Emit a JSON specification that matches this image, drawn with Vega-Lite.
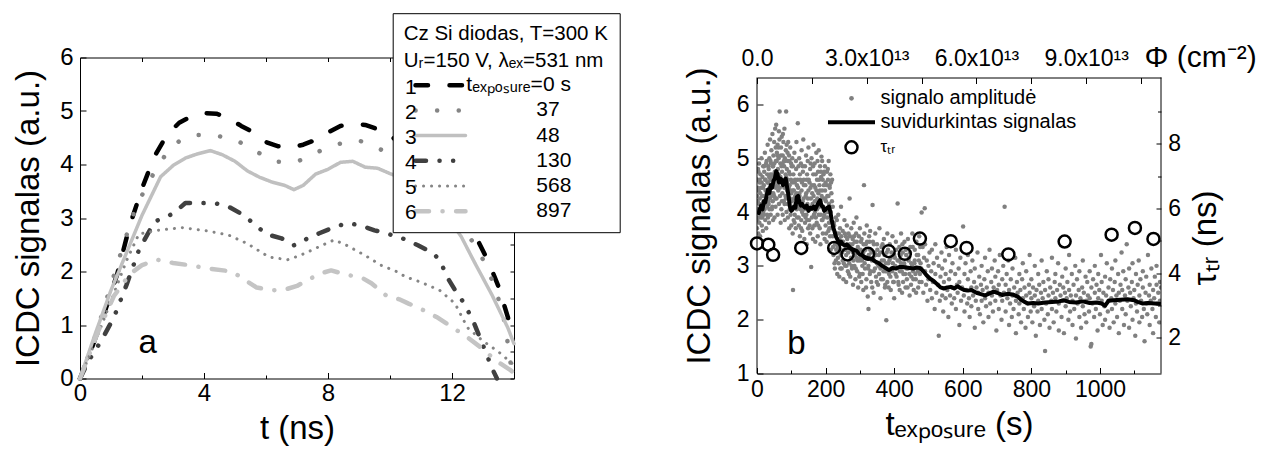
{
"$schema": "https://vega.github.io/schema/vega-lite/v6.json",
"padding": {"left": 12, "top": 12.5, "right": 5, "bottom": 2},
"background": "white",
"config": {
 "font": "Liberation Sans",
 "view": {"stroke": null},
 "axis": {"domainColor": "black", "domainWidth": 1, "tickColor": "black", "tickWidth": 1, "labelColor": "black", "titleColor": "black", "labelFontSize": 24, "titleFontSize": 33, "titleFontWeight": "normal", "grid": false, "labelOverlap": false, "labelFlush": false, "labelBound": false},
 "legend": {"labelColor": "black", "titleColor": "black", "titleLimit": 500, "labelLimit": 500},
 "text": {"color": "black"}
},
"spacing": 62,
"resolve": {"scale": {"color": "independent", "strokeDash": "independent", "shape": "independent"}, "legend": {"color": "independent", "strokeDash": "independent", "shape": "independent"}},
"hconcat": [
{
 "width": 434, "height": 321,
 "data": {"values": [
  {"series":"s1","n":"1","t":0,"v":0},{"series":"s1","n":"1","t":0.4,"v":0.6},{"series":"s1","n":"1","t":0.8,"v":1.25},{"series":"s1","n":"1","t":1.2,"v":1.95},{"series":"s1","n":"1","t":1.6,"v":2.85},{"series":"s1","n":"1","t":2.0,"v":3.55},{"series":"s1","n":"1","t":2.4,"v":4.15},{"series":"s1","n":"1","t":2.8,"v":4.55},{"series":"s1","n":"1","t":3.2,"v":4.78},{"series":"s1","n":"1","t":3.6,"v":4.9},{"series":"s1","n":"1","t":4.0,"v":4.96},{"series":"s1","n":"1","t":4.4,"v":4.95},{"series":"s1","n":"1","t":4.8,"v":4.87},{"series":"s1","n":"1","t":5.2,"v":4.72},{"series":"s1","n":"1","t":5.6,"v":4.6},{"series":"s1","n":"1","t":6.0,"v":4.42},{"series":"s1","n":"1","t":6.4,"v":4.34},{"series":"s1","n":"1","t":6.8,"v":4.32},{"series":"s1","n":"1","t":7.2,"v":4.37},{"series":"s1","n":"1","t":7.6,"v":4.46},{"series":"s1","n":"1","t":8.0,"v":4.6},{"series":"s1","n":"1","t":8.4,"v":4.72},{"series":"s1","n":"1","t":8.8,"v":4.76},{"series":"s1","n":"1","t":9.2,"v":4.74},{"series":"s1","n":"1","t":9.6,"v":4.66},{"series":"s1","n":"1","t":10.0,"v":4.55},{"series":"s1","n":"1","t":10.5,"v":4.3},{"series":"s1","n":"1","t":11.0,"v":3.95},{"series":"s1","n":"1","t":11.5,"v":3.55},{"series":"s1","n":"1","t":12.0,"v":3.2},{"series":"s1","n":"1","t":12.5,"v":2.9},{"series":"s1","n":"1","t":12.8,"v":2.62},{"series":"s1","n":"1","t":13.2,"v":2.15},{"series":"s1","n":"1","t":13.5,"v":1.72},{"series":"s1","n":"1","t":13.8,"v":1.15},{"series":"s1","n":"1","t":14,"v":0.75},
  {"series":"s2","n":"2","t":0,"v":0},{"series":"s2","n":"2","t":0.5,"v":0.8},{"series":"s2","n":"2","t":1.0,"v":1.75},{"series":"s2","n":"2","t":1.4,"v":2.5},{"series":"s2","n":"2","t":1.8,"v":3.2},{"series":"s2","n":"2","t":2.2,"v":3.65},{"series":"s2","n":"2","t":2.5,"v":3.96},{"series":"s2","n":"2","t":2.9,"v":4.3},{"series":"s2","n":"2","t":3.3,"v":4.48},{"series":"s2","n":"2","t":3.7,"v":4.55},{"series":"s2","n":"2","t":4.3,"v":4.55},{"series":"s2","n":"2","t":5.0,"v":4.47},{"series":"s2","n":"2","t":5.6,"v":4.27},{"series":"s2","n":"2","t":6.3,"v":4.05},{"series":"s2","n":"2","t":7.0,"v":4.05},{"series":"s2","n":"2","t":7.6,"v":4.22},{"series":"s2","n":"2","t":8.3,"v":4.38},{"series":"s2","n":"2","t":9.0,"v":4.45},{"series":"s2","n":"2","t":9.7,"v":4.28},{"series":"s2","n":"2","t":10.0,"v":4.2},{"series":"s2","n":"2","t":10.5,"v":4.0},{"series":"s2","n":"2","t":11.0,"v":3.7},{"series":"s2","n":"2","t":11.5,"v":3.4},{"series":"s2","n":"2","t":12.0,"v":3.05},{"series":"s2","n":"2","t":12.5,"v":2.7},{"series":"s2","n":"2","t":12.9,"v":2.35},{"series":"s2","n":"2","t":13.4,"v":1.7},{"series":"s2","n":"2","t":13.7,"v":1.05},{"series":"s2","n":"2","t":13.9,"v":0.25},{"series":"s2","n":"2","t":14,"v":0.1},
  {"series":"s3","n":"3","t":0,"v":0},{"series":"s3","n":"3","t":0.5,"v":0.85},{"series":"s3","n":"3","t":1.0,"v":1.65},{"series":"s3","n":"3","t":1.5,"v":2.35},{"series":"s3","n":"3","t":2.0,"v":3.05},{"series":"s3","n":"3","t":2.6,"v":3.77},{"series":"s3","n":"3","t":3.0,"v":3.98},{"series":"s3","n":"3","t":3.4,"v":4.12},{"series":"s3","n":"3","t":3.8,"v":4.2},{"series":"s3","n":"3","t":4.2,"v":4.26},{"series":"s3","n":"3","t":4.6,"v":4.18},{"series":"s3","n":"3","t":5.0,"v":4.06},{"series":"s3","n":"3","t":5.4,"v":3.88},{"series":"s3","n":"3","t":5.8,"v":3.76},{"series":"s3","n":"3","t":6.2,"v":3.67},{"series":"s3","n":"3","t":6.6,"v":3.61},{"series":"s3","n":"3","t":6.9,"v":3.53},{"series":"s3","n":"3","t":7.2,"v":3.61},{"series":"s3","n":"3","t":7.6,"v":3.82},{"series":"s3","n":"3","t":8.0,"v":3.91},{"series":"s3","n":"3","t":8.4,"v":4.04},{"series":"s3","n":"3","t":8.8,"v":4.06},{"series":"s3","n":"3","t":9.2,"v":3.95},{"series":"s3","n":"3","t":9.6,"v":3.93},{"series":"s3","n":"3","t":10.0,"v":3.83},{"series":"s3","n":"3","t":10.5,"v":3.72},{"series":"s3","n":"3","t":11.0,"v":3.5},{"series":"s3","n":"3","t":11.5,"v":3.2},{"series":"s3","n":"3","t":12.0,"v":2.9},{"series":"s3","n":"3","t":12.3,"v":2.65},{"series":"s3","n":"3","t":12.7,"v":2.2},{"series":"s3","n":"3","t":13.3,"v":1.55},{"series":"s3","n":"3","t":13.8,"v":0.95},{"series":"s3","n":"3","t":14,"v":0.65},
  {"series":"s4","n":"4","t":0,"v":0},{"series":"s4","n":"4","t":0.3,"v":0.35},{"series":"s4","n":"4","t":0.7,"v":0.72},{"series":"s4","n":"4","t":1.1,"v":1.15},{"series":"s4","n":"4","t":1.5,"v":1.75},{"series":"s4","n":"4","t":1.9,"v":2.4},{"series":"s4","n":"4","t":2.4,"v":2.93},{"series":"s4","n":"4","t":3.0,"v":3.08},{"series":"s4","n":"4","t":3.4,"v":3.28},{"series":"s4","n":"4","t":3.9,"v":3.28},{"series":"s4","n":"4","t":4.4,"v":3.27},{"series":"s4","n":"4","t":4.8,"v":3.21},{"series":"s4","n":"4","t":5.2,"v":3.08},{"series":"s4","n":"4","t":5.6,"v":2.9},{"series":"s4","n":"4","t":6.0,"v":2.7},{"series":"s4","n":"4","t":6.5,"v":2.62},{"series":"s4","n":"4","t":6.9,"v":2.49},{"series":"s4","n":"4","t":7.35,"v":2.62},{"series":"s4","n":"4","t":7.7,"v":2.71},{"series":"s4","n":"4","t":8.2,"v":2.83},{"series":"s4","n":"4","t":8.6,"v":2.9},{"series":"s4","n":"4","t":9.0,"v":2.87},{"series":"s4","n":"4","t":9.5,"v":2.77},{"series":"s4","n":"4","t":9.9,"v":2.71},{"series":"s4","n":"4","t":10.4,"v":2.62},{"series":"s4","n":"4","t":10.9,"v":2.49},{"series":"s4","n":"4","t":11.4,"v":2.34},{"series":"s4","n":"4","t":11.6,"v":2.21},{"series":"s4","n":"4","t":11.9,"v":1.84},{"series":"s4","n":"4","t":12.1,"v":1.65},{"series":"s4","n":"4","t":12.4,"v":1.4},{"series":"s4","n":"4","t":12.7,"v":1.05},{"series":"s4","n":"4","t":13.0,"v":0.62},{"series":"s4","n":"4","t":13.3,"v":0.18},{"series":"s4","n":"4","t":13.45,"v":0},
  {"series":"s5","n":"5","t":0,"v":0},{"series":"s5","n":"5","t":0.5,"v":0.7},{"series":"s5","n":"5","t":1.0,"v":1.45},{"series":"s5","n":"5","t":1.5,"v":2.2},{"series":"s5","n":"5","t":1.9,"v":2.7},{"series":"s5","n":"5","t":2.5,"v":2.77},{"series":"s5","n":"5","t":3.3,"v":2.82},{"series":"s5","n":"5","t":4.1,"v":2.76},{"series":"s5","n":"5","t":4.8,"v":2.68},{"series":"s5","n":"5","t":5.4,"v":2.52},{"series":"s5","n":"5","t":6.1,"v":2.27},{"series":"s5","n":"5","t":6.7,"v":2.22},{"series":"s5","n":"5","t":7.1,"v":2.3},{"series":"s5","n":"5","t":7.7,"v":2.46},{"series":"s5","n":"5","t":8.2,"v":2.59},{"series":"s5","n":"5","t":8.6,"v":2.49},{"series":"s5","n":"5","t":9.2,"v":2.3},{"series":"s5","n":"5","t":9.7,"v":2.12},{"series":"s5","n":"5","t":10.25,"v":1.99},{"series":"s5","n":"5","t":10.5,"v":1.9},{"series":"s5","n":"5","t":11.0,"v":1.8},{"series":"s5","n":"5","t":11.6,"v":1.65},{"series":"s5","n":"5","t":12.1,"v":1.4},{"series":"s5","n":"5","t":12.5,"v":0.95},{"series":"s5","n":"5","t":13.0,"v":0.7},{"series":"s5","n":"5","t":13.5,"v":0.5},{"series":"s5","n":"5","t":14,"v":0.25},
  {"series":"s6","n":"6","t":0,"v":0},{"series":"s6","n":"6","t":0.6,"v":0.9},{"series":"s6","n":"6","t":1.1,"v":1.55},{"series":"s6","n":"6","t":1.3,"v":1.7},{"series":"s6","n":"6","t":1.6,"v":1.95},{"series":"s6","n":"6","t":2.0,"v":2.12},{"series":"s6","n":"6","t":2.5,"v":2.22},{"series":"s6","n":"6","t":3.0,"v":2.16},{"series":"s6","n":"6","t":3.5,"v":2.12},{"series":"s6","n":"6","t":4.1,"v":2.06},{"series":"s6","n":"6","t":4.9,"v":2.0},{"series":"s6","n":"6","t":5.3,"v":1.85},{"series":"s6","n":"6","t":5.7,"v":1.7},{"series":"s6","n":"6","t":6.2,"v":1.65},{"series":"s6","n":"6","t":6.6,"v":1.66},{"series":"s6","n":"6","t":7.0,"v":1.73},{"series":"s6","n":"6","t":7.4,"v":1.86},{"series":"s6","n":"6","t":7.8,"v":1.97},{"series":"s6","n":"6","t":8.1,"v":2.02},{"series":"s6","n":"6","t":8.6,"v":1.94},{"series":"s6","n":"6","t":9.1,"v":1.88},{"series":"s6","n":"6","t":9.4,"v":1.78},{"series":"s6","n":"6","t":9.9,"v":1.54},{"series":"s6","n":"6","t":10.3,"v":1.48},{"series":"s6","n":"6","t":10.6,"v":1.4},{"series":"s6","n":"6","t":11.0,"v":1.3},{"series":"s6","n":"6","t":11.5,"v":1.15},{"series":"s6","n":"6","t":12.0,"v":0.96},{"series":"s6","n":"6","t":12.5,"v":0.77},{"series":"s6","n":"6","t":13.0,"v":0.55},{"series":"s6","n":"6","t":13.4,"v":0.34},{"series":"s6","n":"6","t":13.9,"v":0.15},{"series":"s6","n":"6","t":14,"v":0.1}
 ]},
 "layer": [
  {
   "mark": {"type": "line", "strokeCap": "round", "strokeJoin": "round"},
   "encoding": {
    "x": {"field": "t", "type": "quantitative", "scale": {"domain": [0, 14], "nice": false, "zero": false},
          "axis": {"orient": "bottom", "values": [0,2,4,6,8,10,12,14], "format": "d", "labelExpr": "datum.value % 4 === 0 ? datum.label : ''", "tickSize": {"condition": {"test": "datum.value % 4 === 0", "value": -6}, "value": -3.5}, "labelPadding": 9, "title": "t (ns)", "titlePadding": 4}},
    "y": {"field": "v", "type": "quantitative", "scale": {"domain": [0, 6], "nice": false, "zero": false},
          "axis": {"orient": "left", "values": [0,0.5,1,1.5,2,2.5,3,3.5,4,4.5,5,5.5,6], "format": "d", "labelExpr": "datum.value % 1 === 0 ? datum.label : ''", "tickSize": {"condition": {"test": "datum.value % 1 === 0", "value": -6}, "value": -3.5}, "labelPadding": 13, "title": "ICDC signalas (a.u.)", "titlePadding": 14}},
    "color": {"field": "series", "type": "nominal",
      "scale": {"domain": ["s1","s2","s3","s4","s5","s6"], "range": ["#000000","#858585","#c0c0c0","#404040","#858585","#c4c4c4"]},
      "legend": {"orient": "none", "legendX": 312.7, "legendY": -44.3, "title": ["Cz Si diodas, T=300 K", "Uᵣ=150 V, λₑₓ=531 nm"], "titleFontSize": 20.5, "titleFontWeight": "normal", "titleLineHeight": 27, "titlePadding": 3, "labelFontSize": 21, "labelOffset": 15.3, "symbolType": "stroke", "symbolSize": 64, "symbolStrokeWidth": 4.5, "symbolOffset": 26.3, "fillColor": "white", "strokeColor": "black", "padding": 11, "cornerRadius": 0, "rowPadding": 3.2, "zindex": 1,
        "labelExpr": "datum.value === 's1' ? 'tₑₓₚₒₛᵤᵣₑ=0 s' : datum.value === 's2' ? '37' : datum.value === 's3' ? '48' : datum.value === 's4' ? '130' : datum.value === 's5' ? '568' : '897'",
        "encode": {"symbols": {"update": {"size": {"value": 2500}, "strokeCap": {"value": "round"}, "strokeWidth": {"signal": "datum.value === 's5' ? 3 : (datum.value === 's3' ? 3.5 : 4.5)"}}},
                   "labels": {"update": {"dx": {"signal": "datum.value === 's1' ? 0 : 70"}}}}}},
    "strokeDash": {"field": "series", "type": "nominal",
      "scale": {"domain": ["s1","s2","s3","s4","s5","s6"], "range": [[12.5,21.5],[0.1,21.5],[1,0],[10.5,13.5,0.1,13.5,0.1,13.5],[0.1,7.9],[13.5,13.5,0.1,13.5]]},
      "legend": {"orient": "none", "legendX": 312.7, "legendY": -44.3, "title": ["Cz Si diodas, T=300 K", "Uᵣ=150 V, λₑₓ=531 nm"], "titleFontSize": 20.5, "titleFontWeight": "normal", "titleLineHeight": 27, "titlePadding": 3, "labelFontSize": 21, "labelOffset": 15.3, "symbolType": "stroke", "symbolSize": 64, "symbolStrokeWidth": 4.5, "symbolOffset": 26.3, "fillColor": "white", "strokeColor": "black", "padding": 11, "cornerRadius": 0, "rowPadding": 3.2, "zindex": 1,
        "labelExpr": "datum.value === 's1' ? 'tₑₓₚₒₛᵤᵣₑ=0 s' : datum.value === 's2' ? '37' : datum.value === 's3' ? '48' : datum.value === 's4' ? '130' : datum.value === 's5' ? '568' : '897'",
        "encode": {"symbols": {"update": {"size": {"value": 2500}, "strokeCap": {"value": "round"}, "strokeWidth": {"signal": "datum.value === 's5' ? 3 : (datum.value === 's3' ? 3.5 : 4.5)"}}},
                   "labels": {"update": {"dx": {"signal": "datum.value === 's1' ? 0 : 70"}}}}}},
    "strokeWidth": {"condition": [{"test": "datum.series === 's5'", "value": 3}, {"test": "datum.series === 's3'", "value": 3.5}], "value": 4.5}
   }
  },
  {
   "mark": {"type": "line", "opacity": 0},
   "encoding": {
    "x": {"field": "t", "type": "quantitative", "axis": {"orient": "top", "values": [0,2,4,6,8,10,12,14], "labels": false, "tickSize": -4, "title": null}},
    "y": {"field": "v", "type": "quantitative", "axis": {"orient": "right", "values": [0,0.5,1,1.5,2,2.5,3,3.5,4,4.5,5,5.5,6], "labels": false, "tickSize": -4, "title": null}},
    "detail": {"field": "series"}
   }
  },
  {
   "mark": {"type": "point", "opacity": 0},
   "encoding": {
    "x": {"field": "t", "type": "quantitative", "axis": null},
    "y": {"field": "v", "type": "quantitative", "axis": null},
    "shape": {"field": "n", "type": "nominal", "legend": {"orient": "none", "legendX": 304, "legendY": 19.9, "title": null, "labelFontSize": 21, "labelOffset": 0, "symbolSize": 1, "symbolOpacity": 0, "rowPadding": 3.1, "padding": 0, "zindex": 2}}
   }
  },
  {
   "data": {"values": [{}]},
   "mark": {"type": "text", "fontSize": 33, "align": "center", "baseline": "alphabetic"},
   "encoding": {
    "x": {"datum": 2.18, "type": "quantitative", "axis": null},
    "y": {"datum": 0.47, "type": "quantitative", "axis": null},
    "text": {"value": "a"}
   }
  }
 ],
 "resolve": {"axis": {"x": "independent", "y": "independent"}}
},
{
 "width": 404, "height": 316,
 "layer": [
  {
   "data": {"values": [
{"t":0,"v":4.3},{"t":0,"v":3.7},{"t":1,"v":4.6},{"t":2,"v":3.9},{"t":2,"v":4.2},{"t":3,"v":4.8},{"t":4,"v":3.6},{"t":5,"v":4.4},{"t":5,"v":4.0},{"t":6,"v":4.9},{"t":7,"v":3.8},{"t":8,"v":4.25},{"t":8,"v":4.6},{"t":9,"v":3.55},{"t":10,"v":4.7},{"t":11,"v":4.05},{"t":11,"v":3.9},{"t":12,"v":4.45},{"t":13,"v":5.0},{"t":14,"v":3.75},{"t":15,"v":4.3},{"t":16,"v":4.1},{"t":16,"v":4.65},{"t":17,"v":3.65},{"t":18,"v":4.85},{"t":19,"v":4.2},{"t":20,"v":3.95},{"t":20,"v":4.5},{"t":21,"v":4.75},{"t":22,"v":4.05},{"t":23,"v":5.1},{"t":24,"v":3.85},{"t":25,"v":4.4},{"t":25,"v":4.6},{"t":26,"v":4.25},{"t":27,"v":3.7},{"t":28,"v":4.95},{"t":29,"v":4.35},{"t":30,"v":4.1},{"t":30,"v":4.7},{"t":31,"v":5.25},{"t":32,"v":3.9},{"t":33,"v":4.55},{"t":34,"v":4.8},{"t":34,"v":4.15},{"t":35,"v":3.8},{"t":36,"v":5.0},{"t":37,"v":4.45},{"t":38,"v":4.25},{"t":38,"v":5.35},{"t":39,"v":4.6},{"t":40,"v":3.95},{"t":41,"v":4.9},{"t":42,"v":4.35},{"t":42,"v":5.15},{"t":43,"v":4.05},{"t":44,"v":4.7},{"t":45,"v":5.45},{"t":46,"v":4.2},{"t":47,"v":4.85},{"t":47,"v":3.85},{"t":48,"v":5.05},{"t":49,"v":4.5},{"t":50,"v":4.3},{"t":50,"v":5.3},{"t":51,"v":3.9},{"t":52,"v":4.75},{"t":53,"v":5.55},{"t":54,"v":4.1},{"t":55,"v":4.95},{"t":55,"v":4.45},{"t":56,"v":5.62},{"t":57,"v":4.25},{"t":58,"v":5.1},{"t":59,"v":4.6},{"t":60,"v":3.95},{"t":60,"v":5.25},{"t":61,"v":4.8},{"t":62,"v":4.4},{"t":63,"v":5.0},{"t":64,"v":4.15},{"t":64,"v":5.5},{"t":65,"v":4.65},{"t":66,"v":5.87},{"t":67,"v":4.3},{"t":68,"v":4.9},{"t":69,"v":3.8},{"t":70,"v":5.2},{"t":70,"v":4.55},{"t":71,"v":4.05},{"t":72,"v":5.4},{"t":73,"v":4.75},{"t":74,"v":4.35},{"t":75,"v":5.05},{"t":75,"v":3.95},{"t":76,"v":4.6},{"t":77,"v":5.3},{"t":78,"v":4.2},{"t":79,"v":4.85},{"t":80,"v":5.55},{"t":80,"v":4.45},{"t":81,"v":3.85},{"t":82,"v":4.95},{"t":83,"v":4.3},{"t":84,"v":5.15},{"t":85,"v":5.87},{"t":85,"v":4.65},{"t":86,"v":4.0},{"t":87,"v":4.8},{"t":88,"v":4.4},{"t":89,"v":5.1},{"t":90,"v":3.9},{"t":90,"v":4.6},{"t":91,"v":5.3},{"t":92,"v":4.15},{"t":93,"v":4.75},{"t":94,"v":3.7},{"t":95,"v":4.5},{"t":95,"v":4.95},{"t":96,"v":4.25},{"t":97,"v":5.2},{"t":98,"v":3.95},{"t":99,"v":4.6},{"t":100,"v":4.35},{"t":100,"v":3.75},{"t":101,"v":4.85},{"t":102,"v":4.05},{"t":103,"v":5.0},{"t":104,"v":3.6},{"t":105,"v":2.55},{"t":105,"v":4.4},{"t":106,"v":4.7},{"t":107,"v":3.85},{"t":108,"v":4.25},{"t":109,"v":5.1},{"t":110,"v":3.95},{"t":110,"v":4.55},{"t":112,"v":4.15},{"t":113,"v":3.7},{"t":114,"v":4.8},{"t":115,"v":4.35},{"t":115,"v":5.3},{"t":117,"v":3.9},{"t":118,"v":4.6},{"t":119,"v":5.65},{"t":120,"v":4.1},{"t":120,"v":4.45},{"t":122,"v":3.75},{"t":123,"v":5.0},{"t":124,"v":4.3},{"t":125,"v":3.55},{"t":125,"v":4.7},{"t":127,"v":4.05},{"t":128,"v":4.9},{"t":129,"v":3.85},{"t":130,"v":4.4},{"t":130,"v":5.15},{"t":132,"v":3.65},{"t":133,"v":4.2},{"t":134,"v":4.75},{"t":135,"v":3.95},{"t":135,"v":5.35},{"t":137,"v":4.5},{"t":138,"v":3.5},{"t":139,"v":4.1},{"t":140,"v":4.85},{"t":140,"v":3.8},{"t":142,"v":4.3},{"t":143,"v":5.05},{"t":144,"v":3.95},{"t":145,"v":4.6},{"t":145,"v":3.4},{"t":147,"v":4.15},{"t":148,"v":4.95},{"t":149,"v":3.7},{"t":150,"v":4.4},{"t":150,"v":5.2},{"t":152,"v":3.85},{"t":153,"v":4.55},{"t":154,"v":4.05},{"t":155,"v":3.6},{"t":155,"v":4.8},{"t":157,"v":4.25},{"t":158,"v":2.98},{"t":159,"v":5.0},{"t":160,"v":3.9},{"t":160,"v":4.5},{"t":162,"v":4.15},{"t":163,"v":3.5},{"t":164,"v":4.7},{"t":165,"v":4.3},{"t":165,"v":5.25},{"t":167,"v":3.75},{"t":168,"v":4.9},{"t":169,"v":4.0},{"t":170,"v":4.45},{"t":170,"v":3.45},{"t":172,"v":4.2},{"t":173,"v":5.1},{"t":174,"v":3.8},{"t":175,"v":4.6},{"t":175,"v":4.05},{"t":177,"v":3.55},{"t":178,"v":4.75},{"t":179,"v":4.35},{"t":180,"v":3.95},{"t":180,"v":5.15},{"t":182,"v":4.5},{"t":183,"v":3.7},{"t":184,"v":4.85},{"t":185,"v":4.2},{"t":185,"v":3.4},{"t":187,"v":4.65},{"t":188,"v":5.03},{"t":189,"v":3.85},{"t":190,"v":4.4},{"t":190,"v":4.95},{"t":192,"v":3.6},{"t":193,"v":4.1},{"t":194,"v":4.7},{"t":195,"v":3.9},{"t":195,"v":4.5},{"t":197,"v":3.5},{"t":198,"v":4.85},{"t":199,"v":4.25},{"t":200,"v":3.75},{"t":200,"v":4.55},{"t":202,"v":4.05},{"t":203,"v":3.45},{"t":204,"v":4.75},{"t":205,"v":4.3},{"t":205,"v":3.9},{"t":207,"v":4.6},{"t":208,"v":3.65},{"t":209,"v":4.95},{"t":210,"v":4.15},{"t":210,"v":3.8},{"t":212,"v":4.45},{"t":213,"v":3.55},{"t":214,"v":4.7},{"t":215,"v":3.3},{"t":215,"v":4.0},{"t":217,"v":4.35},{"t":218,"v":3.7},{"t":219,"v":4.6},
{"t":0.5,"v":4.6},{"t":1.5,"v":3.85},{"t":2.5,"v":4.45},{"t":3.5,"v":4.05},{"t":4.5,"v":4.75},{"t":6.5,"v":4.15},{"t":7.5,"v":4.55},{"t":9.5,"v":4.35},{"t":10.5,"v":3.95},{"t":12.5,"v":4.15},{"t":13.5,"v":4.55},{"t":15.5,"v":3.9},{"t":17.5,"v":4.45},{"t":18.5,"v":4.0},{"t":20.5,"v":4.85},{"t":21.5,"v":4.3},{"t":23.5,"v":4.6},{"t":24.5,"v":4.15},{"t":26.5,"v":4.9},{"t":27.5,"v":4.4},{"t":29.5,"v":3.95},{"t":30.5,"v":4.55},{"t":32.5,"v":4.85},{"t":33.5,"v":4.2},{"t":35.5,"v":4.65},{"t":36.5,"v":4.05},{"t":38.5,"v":4.7},{"t":39.5,"v":4.95},{"t":41.5,"v":4.3},{"t":42.5,"v":4.65},{"t":44.5,"v":4.1},{"t":45.5,"v":4.85},{"t":47.5,"v":4.35},{"t":48.5,"v":4.65},{"t":50.5,"v":4.9},{"t":51.5,"v":4.55},{"t":53.5,"v":4.25},{"t":54.5,"v":5.2},{"t":56.5,"v":4.7},{"t":57.5,"v":4.95},{"t":59.5,"v":5.05},{"t":60.5,"v":4.5},{"t":62.5,"v":5.2},{"t":63.5,"v":4.7},{"t":65.5,"v":5.35},{"t":66.5,"v":4.45},{"t":68.5,"v":4.65},{"t":69.5,"v":5.05},{"t":71.5,"v":4.85},{"t":72.5,"v":4.2},{"t":74.5,"v":4.9},{"t":75.5,"v":5.45},{"t":77.5,"v":4.5},{"t":78.5,"v":4.95},{"t":80.5,"v":4.15},{"t":81.5,"v":5.0},{"t":83.5,"v":4.7},{"t":84.5,"v":4.25},{"t":86.5,"v":5.25},{"t":87.5,"v":4.55},{"t":89.5,"v":4.15},{"t":90.5,"v":4.95},{"t":92.5,"v":4.45},{"t":93.5,"v":5.05},{"t":95.5,"v":4.05},{"t":96.5,"v":4.7},{"t":98.5,"v":4.4},{"t":99.5,"v":4.9},{"t":101.5,"v":4.2},{"t":102.5,"v":4.55},{"t":104.5,"v":4.85},{"t":106.5,"v":4.1},{"t":107.5,"v":4.4},{"t":109.5,"v":3.8},{"t":111,"v":4.6},{"t":111.5,"v":4.3},{"t":113.5,"v":4.95},{"t":116,"v":4.05},{"t":116.5,"v":4.5},{"t":118.5,"v":4.2},{"t":121,"v":4.85},{"t":121.5,"v":3.9},{"t":123.5,"v":4.35},{"t":126,"v":4.6},{"t":126.5,"v":4.15},{"t":128.5,"v":3.7},{"t":131,"v":4.55},{"t":131.5,"v":4.0},{"t":133.5,"v":4.85},{"t":136,"v":4.25},{"t":136.5,"v":4.6},{"t":138.5,"v":4.05},{"t":141,"v":4.5},{"t":141.5,"v":3.9},{"t":143.5,"v":4.35},{"t":146,"v":4.7},{"t":146.5,"v":3.85},{"t":148.5,"v":4.25},{"t":151,"v":4.6},{"t":151.5,"v":4.05},{"t":153.5,"v":3.75},{"t":156,"v":4.45},{"t":156.5,"v":4.9},{"t":158.5,"v":4.1},{"t":161,"v":4.35},{"t":161.5,"v":3.7},{"t":163.5,"v":4.85},{"t":166,"v":3.95},{"t":166.5,"v":4.5},{"t":168.5,"v":4.2},{"t":171,"v":4.7},{"t":171.5,"v":3.9},{"t":173.5,"v":4.4},{"t":176,"v":4.25},{"t":176.5,"v":4.95},{"t":178.5,"v":3.75},{"t":181,"v":4.6},{"t":181.5,"v":4.1},{"t":183.5,"v":4.4},{"t":186,"v":3.95},{"t":186.5,"v":4.75},{"t":188.5,"v":4.3},{"t":191,"v":3.85},{"t":191.5,"v":4.6},{"t":193.5,"v":4.25},{"t":196,"v":4.75},{"t":196.5,"v":3.95},{"t":198.5,"v":4.4},{"t":201,"v":4.2},{"t":201.5,"v":3.6},{"t":203.5,"v":4.5},{"t":206,"v":4.0},{"t":206.5,"v":4.8},{"t":208.5,"v":4.3},{"t":211,"v":3.7},{"t":211.5,"v":4.5},{"t":213.5,"v":4.1},{"t":216,"v":4.55},{"t":216.5,"v":3.85},{"t":218.5,"v":4.2},
{"t":221,"v":3.55},{"t":221,"v":4.1},{"t":223,"v":3.2},{"t":225,"v":3.75},{"t":227,"v":2.95},{"t":228,"v":3.4},{"t":230,"v":3.9},{"t":230,"v":3.1},{"t":232,"v":3.6},{"t":234,"v":2.85},{"t":235,"v":3.35},{"t":237,"v":3.95},{"t":238,"v":3.05},{"t":240,"v":3.5},{"t":240,"v":2.8},{"t":242,"v":3.7},{"t":244,"v":3.2},{"t":245,"v":4.1},{"t":247,"v":2.95},{"t":249,"v":3.45},{"t":250,"v":3.65},{"t":250,"v":3.1},{"t":252,"v":2.75},{"t":254,"v":3.3},{"t":255,"v":3.85},{"t":257,"v":3.0},{"t":259,"v":3.55},{"t":260,"v":3.2},{"t":260,"v":2.7},{"t":262,"v":3.75},{"t":264,"v":3.35},{"t":265,"v":2.9},{"t":267,"v":3.6},{"t":269,"v":3.05},{"t":270,"v":4.25},{"t":270,"v":3.4},{"t":272,"v":2.8},{"t":274,"v":3.15},{"t":275,"v":3.7},{"t":277,"v":2.95},{"t":279,"v":3.5},{"t":280,"v":3.25},{"t":280,"v":2.65},{"t":282,"v":3.8},{"t":284,"v":3.0},{"t":285,"v":3.45},{"t":287,"v":2.75},{"t":289,"v":3.6},{"t":290,"v":3.15},{"t":290,"v":3.9},{"t":292,"v":2.9},{"t":294,"v":3.35},{"t":295,"v":2.6},{"t":297,"v":3.55},{"t":299,"v":3.1},{"t":300,"v":2.85},{"t":300,"v":3.7},{"t":302,"v":3.3},{"t":304,"v":2.7},{"t":305,"v":3.5},{"t":307,"v":3.0},
{"t":222,"v":3.35},{"t":224,"v":3.8},{"t":226,"v":3.05},{"t":229,"v":3.55},{"t":231,"v":3.3},{"t":233,"v":3.85},{"t":236,"v":3.15},{"t":239,"v":3.6},{"t":241,"v":3.3},{"t":243,"v":2.95},{"t":246,"v":3.55},{"t":248,"v":3.25},{"t":251,"v":3.45},{"t":253,"v":3.05},{"t":256,"v":3.6},{"t":258,"v":3.3},{"t":261,"v":3.0},{"t":263,"v":3.5},{"t":266,"v":3.25},{"t":268,"v":2.85},{"t":271,"v":3.55},{"t":273,"v":3.3},{"t":276,"v":3.0},{"t":278,"v":3.4},{"t":281,"v":3.1},{"t":283,"v":3.55},{"t":286,"v":3.2},{"t":288,"v":2.95},{"t":291,"v":3.45},{"t":293,"v":3.1},{"t":296,"v":3.3},{"t":298,"v":2.8},{"t":301,"v":3.15},{"t":303,"v":3.45},{"t":306,"v":3.1},{"t":308,"v":2.85},{"t":311,"v":3.4},{"t":314,"v":3.05},{"t":316,"v":3.3},{"t":318,"v":2.6},{"t":321,"v":3.45},{"t":324,"v":2.95},{"t":326,"v":3.2},{"t":328,"v":3.45},{"t":331,"v":2.9},{"t":334,"v":3.25},{"t":336,"v":2.6},{"t":339,"v":3.15},{"t":341,"v":3.4},{"t":344,"v":2.95},{"t":346,"v":3.2},{"t":349,"v":2.7},{"t":351,"v":3.3},{"t":354,"v":3.0},{"t":356,"v":2.85},{"t":359,"v":3.25},{"t":362,"v":2.75},{"t":364,"v":3.1},{"t":366,"v":3.4},{"t":369,"v":2.9},{"t":372,"v":3.2},{"t":374,"v":2.65},{"t":376,"v":3.05},{"t":379,"v":2.9},{"t":382,"v":3.3},{"t":384,"v":2.6},{"t":386,"v":3.1},{"t":389,"v":2.8},{"t":392,"v":3.25},{"t":394,"v":2.9},{"t":396,"v":3.05},{"t":399,"v":2.7},{"t":402,"v":3.15},{"t":404,"v":2.85},{"t":406,"v":3.3},{"t":409,"v":2.95},{"t":412,"v":2.7},{"t":414,"v":3.1},{"t":416,"v":2.55},{"t":419,"v":3.2},{"t":422,"v":2.9},{"t":424,"v":3.4},{"t":426,"v":2.7},{"t":429,"v":3.05},{"t":432,"v":2.85},{"t":434,"v":3.3},{"t":436,"v":2.95},{"t":439,"v":2.6},{"t":442,"v":3.1},{"t":444,"v":2.85},{"t":446,"v":3.25},{"t":449,"v":2.65},{"t":452,"v":3.0},{"t":454,"v":3.35},{"t":456,"v":2.75},{"t":459,"v":3.05},{"t":462,"v":2.85},{"t":464,"v":2.5},{"t":466,"v":3.2},{"t":469,"v":2.9},{"t":472,"v":3.1},{"t":474,"v":2.7},{"t":476,"v":3.35},{"t":479,"v":2.95},
{"t":310,"v":3.25},{"t":310,"v":2.55},{"t":312,"v":4.5},{"t":313,"v":3.6},{"t":315,"v":2.95},{"t":317,"v":3.4},{"t":319,"v":2.75},{"t":320,"v":3.15},{"t":320,"v":3.75},{"t":323,"v":2.43},{"t":325,"v":3.0},{"t":325,"v":2.2},{"t":327,"v":3.55},{"t":329,"v":2.85},{"t":330,"v":3.3},{"t":330,"v":3.65},{"t":333,"v":2.7},{"t":335,"v":3.1},{"t":337,"v":4.13},{"t":338,"v":3.45},{"t":340,"v":2.9},{"t":340,"v":2.5},{"t":343,"v":3.25},{"t":345,"v":3.6},{"t":347,"v":2.8},{"t":350,"v":3.05},{"t":350,"v":3.4},{"t":353,"v":2.65},{"t":355,"v":3.2},{"t":357,"v":3.7},{"t":360,"v":2.95},{"t":360,"v":2.4},{"t":363,"v":3.35},{"t":365,"v":3.0},{"t":367,"v":2.75},{"t":370,"v":3.5},{"t":370,"v":3.1},{"t":373,"v":2.6},{"t":375,"v":2.9},{"t":377,"v":1.99},{"t":378,"v":3.25},{"t":380,"v":3.6},{"t":380,"v":2.7},{"t":383,"v":3.05},{"t":385,"v":2.85},{"t":387,"v":3.4},{"t":390,"v":2.55},{"t":390,"v":3.15},{"t":393,"v":2.95},{"t":395,"v":3.55},{"t":397,"v":2.7},{"t":400,"v":3.2},{"t":400,"v":2.4},{"t":403,"v":3.0},{"t":405,"v":3.45},{"t":407,"v":2.8},{"t":410,"v":3.1},{"t":410,"v":4.16},{"t":413,"v":2.65},{"t":415,"v":3.35},{"t":417,"v":2.9},{"t":420,"v":3.6},{"t":420,"v":3.05},{"t":423,"v":2.5},{"t":425,"v":3.25},{"t":427,"v":2.85},{"t":430,"v":3.45},{"t":430,"v":3.0},{"t":433,"v":2.6},{"t":435,"v":3.2},{"t":437,"v":2.75},{"t":440,"v":3.5},{"t":440,"v":2.95},{"t":443,"v":3.15},{"t":445,"v":2.45},{"t":447,"v":3.35},{"t":450,"v":2.8},{"t":450,"v":3.05},{"t":453,"v":3.6},{"t":455,"v":2.9},{"t":457,"v":2.55},{"t":460,"v":3.3},{"t":460,"v":3.1},{"t":463,"v":2.75},{"t":465,"v":3.45},{"t":467,"v":2.95},{"t":470,"v":3.2},{"t":470,"v":2.6},{"t":473,"v":3.55},{"t":475,"v":2.85},{"t":477,"v":3.05},{"t":480,"v":3.99},{"t":480,"v":2.7},{"t":483,"v":3.35},{"t":485,"v":2.5},{"t":487,"v":3.15},{"t":489,"v":4.07},{"t":490,"v":2.9},{"t":490,"v":3.4},{"t":493,"v":2.65},{"t":495,"v":3.1},{"t":497,"v":2.35},{"t":500,"v":3.0},{"t":500,"v":2.75},
{"t":503,"v":3.25},{"t":505,"v":2.55},{"t":508,"v":2.9},{"t":510,"v":3.3},{"t":510,"v":2.4},{"t":513,"v":2.7},{"t":515,"v":3.05},{"t":518,"v":2.2},{"t":520,"v":2.85},{"t":520,"v":3.4},{"t":523,"v":2.5},{"t":525,"v":3.15},{"t":528,"v":2.65},{"t":530,"v":1.7},{"t":530,"v":3.0},{"t":533,"v":2.35},{"t":535,"v":2.8},{"t":538,"v":3.25},{"t":540,"v":2.45},{"t":540,"v":2.95},{"t":543,"v":2.15},{"t":545,"v":2.7},{"t":548,"v":3.1},{"t":550,"v":2.4},{"t":550,"v":2.85},{"t":553,"v":3.35},{"t":555,"v":2.55},{"t":558,"v":2.05},{"t":560,"v":2.75},{"t":560,"v":3.2},{"t":563,"v":2.45},{"t":565,"v":2.9},{"t":568,"v":2.3},{"t":570,"v":3.05},{"t":570,"v":2.6},{"t":575,"v":2.4},{"t":578,"v":2.85},{"t":580,"v":2.2},{"t":580,"v":3.3},{"t":583,"v":2.65},{"t":585,"v":2.5},{"t":588,"v":2.95},{"t":590,"v":1.9},{"t":590,"v":2.7},{"t":593,"v":3.15},{"t":595,"v":2.35},{"t":598,"v":2.6},{"t":601,"v":3.73},{"t":603,"v":2.45},{"t":605,"v":2.85},{"t":605,"v":2.15},{"t":608,"v":3.05},{"t":610,"v":2.55},{"t":613,"v":2.3},{"t":615,"v":2.75},{"t":615,"v":3.2},{"t":618,"v":2.4},{"t":620,"v":2.05},{"t":623,"v":2.9},{"t":625,"v":2.6},{"t":625,"v":2.25},{"t":628,"v":3.1},{"t":630,"v":2.45},{"t":633,"v":2.7},{"t":635,"v":1.85},{"t":635,"v":2.95},{"t":638,"v":2.35},{"t":640,"v":2.6},{"t":643,"v":3.25},{"t":645,"v":2.2},{"t":645,"v":2.5},{"t":648,"v":2.8},{"t":650,"v":2.1},{"t":653,"v":2.65},{"t":655,"v":3.0},{"t":655,"v":2.35},{"t":658,"v":2.55},{"t":660,"v":1.95},{"t":663,"v":2.75},{"t":665,"v":2.4},{"t":665,"v":3.15},{"t":668,"v":2.25},{"t":670,"v":2.6},{"t":673,"v":2.9},{"t":675,"v":2.05},{"t":675,"v":2.5},{"t":678,"v":3.3},{"t":680,"v":2.3},{"t":683,"v":2.7},{"t":685,"v":2.45},{"t":685,"v":2.95},{"t":688,"v":2.15},{"t":690,"v":2.6},{"t":693,"v":3.1},{"t":695,"v":2.35},{"t":695,"v":2.8},{"t":698,"v":1.8},{"t":700,"v":2.55},{"t":703,"v":2.9},{"t":705,"v":2.2},{"t":705,"v":2.65},{"t":708,"v":3.2},{"t":710,"v":2.45},{"t":713,"v":2.0},{"t":715,"v":2.75},{"t":715,"v":2.35},{"t":718,"v":3.0},{"t":720,"v":2.5},{"t":722,"v":4.1},{"t":725,"v":2.15},{"t":725,"v":2.65},{"t":728,"v":2.85},{"t":730,"v":2.4},{"t":733,"v":3.1},{"t":735,"v":1.9},{"t":735,"v":2.55},{"t":738,"v":2.3},{"t":740,"v":2.75},{"t":743,"v":2.05},{"t":745,"v":2.95},{"t":745,"v":2.45},{"t":748,"v":2.2},{"t":750,"v":2.6},{"t":753,"v":3.15},{"t":755,"v":2.35},{"t":755,"v":1.75},{"t":758,"v":2.7},{"t":760,"v":2.5},{"t":763,"v":2.1},{"t":765,"v":2.85},{"t":765,"v":2.3},{"t":768,"v":2.55},{"t":770,"v":1.95},{"t":773,"v":2.75},{"t":775,"v":2.4},{"t":775,"v":3.05},{"t":778,"v":2.2},{"t":780,"v":2.6},{"t":783,"v":1.85},{"t":785,"v":2.45},{"t":785,"v":2.9},{"t":788,"v":2.3},{"t":790,"v":2.05},{"t":793,"v":2.65},{"t":795,"v":2.5},{"t":795,"v":3.2},{"t":798,"v":2.15},
{"t":800,"v":2.4},{"t":800,"v":2.75},{"t":803,"v":1.95},{"t":805,"v":2.6},{"t":808,"v":2.25},{"t":810,"v":3.0},{"t":810,"v":2.45},{"t":813,"v":1.7},{"t":815,"v":2.55},{"t":818,"v":2.15},{"t":820,"v":2.85},{"t":820,"v":2.35},{"t":823,"v":2.65},{"t":825,"v":1.9},{"t":828,"v":2.5},{"t":830,"v":3.1},{"t":830,"v":2.2},{"t":833,"v":2.4},{"t":835,"v":2.7},{"t":838,"v":2.0},{"t":840,"v":1.42},{"t":840,"v":2.55},{"t":843,"v":2.3},{"t":845,"v":2.9},{"t":848,"v":2.1},{"t":850,"v":2.45},{"t":850,"v":2.75},{"t":853,"v":1.85},{"t":855,"v":2.6},{"t":858,"v":2.35},{"t":860,"v":3.15},{"t":860,"v":2.2},{"t":863,"v":2.5},{"t":865,"v":1.95},{"t":868,"v":2.7},{"t":870,"v":2.4},{"t":870,"v":2.85},{"t":873,"v":2.15},{"t":875,"v":2.55},{"t":878,"v":3.05},{"t":880,"v":2.3},{"t":880,"v":1.8},{"t":883,"v":2.65},{"t":885,"v":2.45},{"t":888,"v":2.05},{"t":890,"v":2.8},{"t":890,"v":2.35},{"t":893,"v":2.6},{"t":895,"v":1.75},{"t":898,"v":2.5},{"t":900,"v":2.95},{"t":900,"v":2.25},{"t":903,"v":2.4},{"t":905,"v":2.7},{"t":908,"v":2.0},{"t":910,"v":2.55},{"t":910,"v":3.2},{"t":913,"v":2.15},{"t":915,"v":2.45},{"t":918,"v":2.85},{"t":920,"v":1.9},{"t":920,"v":2.35},{"t":923,"v":2.65},{"t":925,"v":2.2},{"t":928,"v":3.0},{"t":930,"v":2.45},{"t":930,"v":1.65},{"t":933,"v":2.75},{"t":935,"v":2.3},{"t":938,"v":2.55},{"t":940,"v":2.05},{"t":940,"v":2.9},{"t":943,"v":2.4},{"t":945,"v":1.85},{"t":948,"v":2.6},{"t":950,"v":2.25},{"t":950,"v":3.1},{"t":953,"v":2.5},{"t":955,"v":2.1},{"t":958,"v":2.8},{"t":960,"v":2.35},{"t":960,"v":1.95},{"t":963,"v":2.7},{"t":965,"v":2.45},{"t":968,"v":2.15},{"t":970,"v":2.9},{"t":970,"v":2.4},{"t":973,"v":1.5},{"t":975,"v":2.6},{"t":975,"v":1.55},{"t":978,"v":2.3},{"t":980,"v":2.75},{"t":983,"v":2.05},{"t":985,"v":2.5},{"t":985,"v":3.0},{"t":988,"v":2.2},{"t":990,"v":2.65},{"t":993,"v":1.8},{"t":995,"v":2.4},{"t":995,"v":2.85},{"t":998,"v":2.55},
{"t":1000,"v":2.1},{"t":1003,"v":3.2},{"t":1005,"v":2.35},{"t":1005,"v":2.7},{"t":1008,"v":1.9},{"t":1010,"v":2.5},{"t":1013,"v":2.25},{"t":1015,"v":2.8},{"t":1015,"v":2.0},{"t":1018,"v":2.45},{"t":1020,"v":3.05},{"t":1023,"v":2.15},{"t":1025,"v":2.6},{"t":1025,"v":2.35},{"t":1028,"v":1.85},{"t":1030,"v":2.75},{"t":1033,"v":2.4},{"t":1035,"v":2.95},{"t":1035,"v":2.2},{"t":1038,"v":2.55},{"t":1040,"v":1.95},{"t":1043,"v":2.7},{"t":1045,"v":2.3},{"t":1045,"v":3.1},{"t":1048,"v":2.45},{"t":1050,"v":2.05},{"t":1053,"v":2.85},{"t":1055,"v":2.5},{"t":1055,"v":1.75},{"t":1058,"v":2.35},{"t":1060,"v":2.65},{"t":1063,"v":3.25},{"t":1065,"v":2.2},{"t":1065,"v":2.55},{"t":1068,"v":2.9},{"t":1070,"v":1.9},{"t":1073,"v":2.45},{"t":1075,"v":2.75},{"t":1075,"v":2.1},{"t":1078,"v":3.4},{"t":1080,"v":2.35},{"t":1083,"v":2.6},{"t":1085,"v":1.85},{"t":1085,"v":2.95},{"t":1088,"v":2.5},{"t":1090,"v":2.25},{"t":1093,"v":2.7},{"t":1095,"v":2.0},{"t":1095,"v":3.05},{"t":1098,"v":2.4},{"t":1100,"v":2.55},{"t":1103,"v":1.7},{"t":1105,"v":2.85},{"t":1105,"v":2.3},{"t":1108,"v":2.15},{"t":1110,"v":2.65},{"t":1113,"v":3.1},{"t":1115,"v":2.45},{"t":1115,"v":1.95},{"t":1118,"v":2.75},{"t":1120,"v":2.35},{"t":1123,"v":2.05},{"t":1125,"v":2.6},{"t":1125,"v":2.9},{"t":1128,"v":2.2},{"t":1130,"v":1.6},{"t":1133,"v":2.5},{"t":1135,"v":2.8},{"t":1135,"v":2.3},{"t":1138,"v":2.1},{"t":1140,"v":3.2},{"t":1143,"v":2.45},{"t":1145,"v":1.9},{"t":1145,"v":2.65},{"t":1148,"v":2.35},{"t":1150,"v":2.95},{"t":1153,"v":2.2},{"t":1155,"v":2.55},{"t":1155,"v":1.75},{"t":1158,"v":2.4},{"t":1160,"v":2.8},{"t":1163,"v":2.05},{"t":1165,"v":2.65},{"t":1165,"v":3.0},{"t":1168,"v":2.3},{"t":1170,"v":2.5},{"t":1173,"v":1.95},{"t":1175,"v":2.7},{"t":1175,"v":2.35},{"t":1178,"v":2.6}
   ]},
   "mark": {"type": "circle", "size": 20, "opacity": 1, "clip": true},
   "encoding": {
    "x": {"field": "t", "type": "quantitative", "scale": {"domain": [0, 1178], "nice": false, "zero": false},
          "axis": {"orient": "bottom", "values": [0,100,200,300,400,500,600,700,800,900,1000,1100], "format": "d", "labelExpr": "datum.value % 200 === 0 ? datum.label : ''", "tickSize": {"condition": {"test": "datum.value % 200 === 0", "value": -6}, "value": -3.5}, "labelPadding": 11, "labelFontSize": 23, "title": "tₑₓₚₒₛᵤᵣₑ (s)", "titlePadding": 4}},
    "y": {"field": "v", "type": "quantitative", "scale": {"domain": [1, 6.8716], "nice": false, "zero": false},
          "axis": {"orient": "left", "domain": false, "values": [1,1.5,2,2.5,3,3.5,4,4.5,5,5.5,6], "format": "d", "labelExpr": "datum.value % 1 === 0 ? datum.label : ''", "tickSize": {"condition": {"test": "datum.value % 1 === 0", "value": -6}, "value": -3.5}, "labelPadding": 14, "labelFontSize": 23, "title": "ICDC signalas (a.u.)", "titlePadding": 20}},
    "color": {"datum": "signalo amplitudė", "type": "nominal",
      "scale": {"domain": ["signalo amplitudė", "suvidurkintas signalas", "τₜᵣ"], "range": ["#808080", "#000000", "#000000"]},
      "legend": {"orient": "none", "legendX": 70.6, "legendY": 30.8, "title": null, "labelFontSize": 20, "labelOffset": 19.1, "symbolSize": 64, "symbolOffset": 13.9, "symbolStrokeColor": "black", "symbolStrokeWidth": 2.5, "rowPadding": 4, "padding": 0,
        "encode": {
          "symbols": {"update": {
            "shape": {"signal": "datum.value === 'suvidurkintas signalas' ? 'stroke' : 'circle'"},
            "size": {"signal": "datum.value === 'suvidurkintas signalas' ? 2209 : (datum.value === 'signalo amplitudė' ? 22 : 144)"},
            "fillOpacity": {"signal": "datum.value === 'signalo amplitudė' ? 1 : 0"},
            "strokeOpacity": {"signal": "datum.value === 'signalo amplitudė' ? 0 : 1"},
            "strokeWidth": {"signal": "datum.value === 'suvidurkintas signalas' ? 4 : 2.5"},
            "opacity": {"value": 1}}},
          "labels": {"update": {"fontSize": {"signal": "datum.value === 'τₜᵣ' ? 17 : 20"}}}}}}
   }
  },
  {
   "data": {"values": [
{"t":0,"v":4.0},{"t":5,"v":3.98},{"t":8,"v":4.05},{"t":12,"v":4.12},{"t":16,"v":4.05},{"t":20,"v":4.2},{"t":24,"v":4.18},{"t":28,"v":4.3},{"t":32,"v":4.42},{"t":36,"v":4.35},{"t":40,"v":4.5},{"t":44,"v":4.45},{"t":48,"v":4.58},{"t":52,"v":4.62},{"t":56,"v":4.76},{"t":60,"v":4.7},{"t":64,"v":4.55},{"t":68,"v":4.62},{"t":72,"v":4.6},{"t":76,"v":4.5},{"t":80,"v":4.58},{"t":84,"v":4.62},{"t":88,"v":4.45},{"t":92,"v":4.3},{"t":96,"v":4.1},{"t":100,"v":4.02},{"t":104,"v":4.05},{"t":108,"v":4.1},{"t":112,"v":4.08},{"t":116,"v":4.28},{"t":120,"v":4.3},{"t":124,"v":4.18},{"t":128,"v":4.12},{"t":132,"v":4.15},{"t":136,"v":4.1},{"t":140,"v":4.08},{"t":145,"v":4.12},{"t":150,"v":4.02},{"t":155,"v":4.08},{"t":160,"v":4.06},{"t":165,"v":4.1},{"t":170,"v":4.05},{"t":175,"v":4.12},{"t":180,"v":4.18},{"t":184,"v":4.22},{"t":188,"v":4.12},{"t":192,"v":4.1},{"t":196,"v":4.02},{"t":200,"v":4.05},{"t":205,"v":4.08},{"t":210,"v":4.1},{"t":214,"v":4.0},{"t":218,"v":3.85},{"t":222,"v":3.72},{"t":226,"v":3.64},{"t":230,"v":3.55},{"t":235,"v":3.48},{"t":240,"v":3.42},{"t":245,"v":3.45},{"t":250,"v":3.4},{"t":256,"v":3.38},{"t":262,"v":3.4},{"t":268,"v":3.36},{"t":275,"v":3.32},{"t":282,"v":3.3},{"t":290,"v":3.28},{"t":298,"v":3.22},{"t":306,"v":3.2},{"t":315,"v":3.16},{"t":325,"v":3.14},{"t":335,"v":3.13},{"t":345,"v":3.08},{"t":355,"v":3.05},{"t":365,"v":3.0},{"t":375,"v":2.96},{"t":385,"v":2.92},{"t":395,"v":2.96},{"t":405,"v":2.95},{"t":415,"v":2.98},{"t":425,"v":2.98},{"t":435,"v":2.97},{"t":445,"v":2.96},{"t":455,"v":2.95},{"t":465,"v":2.97},{"t":475,"v":2.96},{"t":485,"v":2.9},{"t":495,"v":2.82},{"t":505,"v":2.76},{"t":515,"v":2.72},{"t":525,"v":2.66},{"t":535,"v":2.6},{"t":545,"v":2.58},{"t":555,"v":2.6},{"t":565,"v":2.61},{"t":575,"v":2.58},{"t":585,"v":2.62},{"t":595,"v":2.58},{"t":605,"v":2.55},{"t":615,"v":2.54},{"t":625,"v":2.55},{"t":640,"v":2.5},{"t":655,"v":2.47},{"t":665,"v":2.45},{"t":675,"v":2.48},{"t":690,"v":2.52},{"t":700,"v":2.5},{"t":715,"v":2.46},{"t":730,"v":2.48},{"t":745,"v":2.47},{"t":760,"v":2.43},{"t":770,"v":2.37},{"t":780,"v":2.33},{"t":790,"v":2.3},{"t":805,"v":2.31},{"t":820,"v":2.3},{"t":840,"v":2.32},{"t":860,"v":2.33},{"t":880,"v":2.34},{"t":895,"v":2.36},{"t":910,"v":2.33},{"t":930,"v":2.32},{"t":950,"v":2.34},{"t":970,"v":2.31},{"t":990,"v":2.32},{"t":1005,"v":2.3},{"t":1015,"v":2.26},{"t":1025,"v":2.35},{"t":1040,"v":2.36},{"t":1060,"v":2.37},{"t":1080,"v":2.38},{"t":1100,"v":2.36},{"t":1110,"v":2.33},{"t":1125,"v":2.3},{"t":1140,"v":2.31},{"t":1160,"v":2.3},{"t":1178,"v":2.29}
   ]},
   "mark": {"type": "line", "strokeWidth": 4, "clip": true, "strokeJoin": "round"},
   "encoding": {
    "x": {"field": "t", "type": "quantitative",
          "axis": {"orient": "top", "offset": -20, "values": [0,160,320,480,640,800,960,1120], "labelExpr": "datum.value === 0 ? '0.0' : datum.value === 320 ? '3.0x10¹³' : datum.value === 640 ? '6.0x10¹³' : datum.value === 960 ? '9.0x10¹³' : ''", "tickSize": -6, "labelPadding": 12.7, "labelFontSize": 23, "title": "Φ (cm⁻²)", "titleFontSize": 30, "titleX": 387, "titleY": -11, "titleAlign": "left", "titleBaseline": "alphabetic", "titleAngle": 0}},
    "y": {"field": "v", "type": "quantitative", "scale": {"domain": [1, 6.8716], "nice": false, "zero": false}, "axis": null},
    "color": {"datum": "suvidurkintas signalas", "type": "nominal",
      "legend": {"orient": "none", "legendX": 70.6, "legendY": 30.8, "title": null, "labelFontSize": 20, "labelOffset": 19.1, "symbolSize": 64, "symbolOffset": 13.9, "symbolStrokeColor": "black", "symbolStrokeWidth": 2.5, "rowPadding": 4, "padding": 0,
        "encode": {
          "symbols": {"update": {
            "shape": {"signal": "datum.value === 'suvidurkintas signalas' ? 'stroke' : 'circle'"},
            "size": {"signal": "datum.value === 'suvidurkintas signalas' ? 2209 : (datum.value === 'signalo amplitudė' ? 22 : 144)"},
            "fillOpacity": {"signal": "datum.value === 'signalo amplitudė' ? 1 : 0"},
            "strokeOpacity": {"signal": "datum.value === 'signalo amplitudė' ? 0 : 1"},
            "strokeWidth": {"signal": "datum.value === 'suvidurkintas signalas' ? 4 : 2.5"},
            "opacity": {"value": 1}}},
          "labels": {"update": {"fontSize": {"signal": "datum.value === 'τₜᵣ' ? 17 : 20"}}}}}}
   }
  },
  {
   "data": {"values": [{}]},
   "mark": {"type": "text", "fontSize": 33, "align": "center", "baseline": "alphabetic"},
   "encoding": {
    "x": {"datum": 114.7, "type": "quantitative", "axis": null},
    "y": {"datum": 1.36, "type": "quantitative", "scale": {"domain": [1, 6.8716], "nice": false, "zero": false}, "axis": null},
    "text": {"value": "b"}
   }
  },
  {
   "data": {"values": [{}]},
   "mark": {"type": "rule", "color": "black", "strokeWidth": 1},
   "encoding": {
    "x": {"datum": 0, "type": "quantitative", "axis": null},
    "y": {"datum": 1, "type": "quantitative", "scale": {"domain": [1, 6.8716], "nice": false, "zero": false}, "axis": null},
    "y2": {"datum": 6.5}
   }
  },
  {
   "data": {"values": [{}]},
   "mark": {"type": "rule", "color": "black", "strokeWidth": 1},
   "encoding": {
    "x": {"datum": 1178, "type": "quantitative", "axis": null},
    "y": {"datum": 1, "type": "quantitative", "scale": {"domain": [1, 6.8716], "nice": false, "zero": false}, "axis": null},
    "y2": {"datum": 6.5}
   }
  },
  {
   "data": {"values": [
    {"t":0,"tau":4.92},{"t":33,"tau":4.88},{"t":47,"tau":4.57},{"t":129,"tau":4.78},{"t":225,"tau":4.78},{"t":264,"tau":4.58},{"t":324,"tau":4.6},{"t":384,"tau":4.68},{"t":431,"tau":4.6},{"t":475,"tau":5.07},{"t":565,"tau":4.99},{"t":611,"tau":4.78},{"t":733,"tau":4.58},{"t":897,"tau":4.98},{"t":1034,"tau":5.19},{"t":1102,"tau":5.4},{"t":1156,"tau":5.06}
   ]},
   "mark": {"type": "point", "shape": "circle", "filled": false, "size": 144, "strokeWidth": 2.5, "opacity": 1},
   "encoding": {
    "x": {"field": "t", "type": "quantitative", "axis": null},
    "y": {"field": "tau", "type": "quantitative", "scale": {"domain": [0.9, 10.668], "nice": false, "zero": false},
          "axis": {"orient": "right", "domain": false, "values": [2,3,4,5,6,7,8,9], "format": "d", "labelExpr": "datum.value % 2 === 0 ? datum.label : ''", "tickSize": {"condition": {"test": "datum.value % 2 === 0", "value": -5}, "value": -3.5}, "labelPadding": 11.7, "labelFontSize": 23, "title": "τₜᵣ (ns)", "titleAngle": 270, "titleX": 54.7, "titleY": 180, "titleAlign": "center", "titleBaseline": "alphabetic"}},
    "color": {"datum": "τₜᵣ", "type": "nominal",
      "legend": {"orient": "none", "legendX": 70.6, "legendY": 30.8, "title": null, "labelFontSize": 20, "labelOffset": 19.1, "symbolSize": 64, "symbolOffset": 13.9, "symbolStrokeColor": "black", "symbolStrokeWidth": 2.5, "rowPadding": 4, "padding": 0,
        "encode": {
          "symbols": {"update": {
            "shape": {"signal": "datum.value === 'suvidurkintas signalas' ? 'stroke' : 'circle'"},
            "size": {"signal": "datum.value === 'suvidurkintas signalas' ? 2209 : (datum.value === 'signalo amplitudė' ? 22 : 144)"},
            "fillOpacity": {"signal": "datum.value === 'signalo amplitudė' ? 1 : 0"},
            "strokeOpacity": {"signal": "datum.value === 'signalo amplitudė' ? 0 : 1"},
            "strokeWidth": {"signal": "datum.value === 'suvidurkintas signalas' ? 4 : 2.5"},
            "opacity": {"value": 1}}},
          "labels": {"update": {"fontSize": {"signal": "datum.value === 'τₜᵣ' ? 17 : 20"}}}}}}
   }
  }
 ],
 "resolve": {"scale": {"y": "independent"}, "axis": {"x": "independent", "y": "independent"}}
}
]
}
